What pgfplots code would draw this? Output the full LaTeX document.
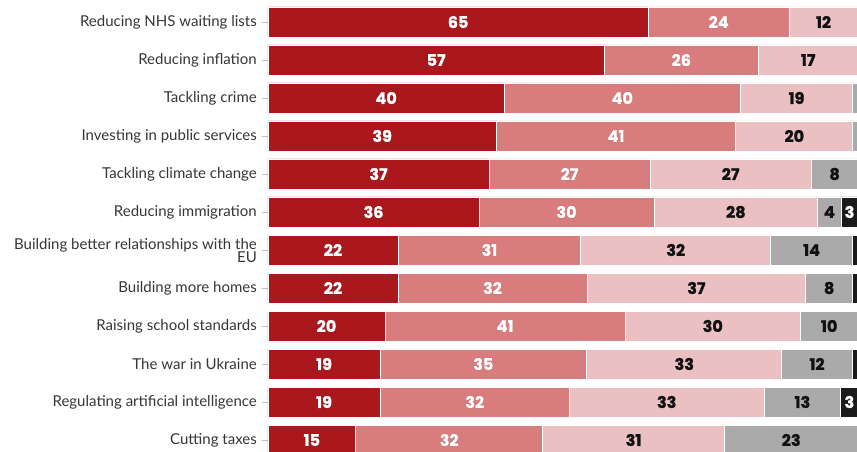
\documentclass[border=0pt]{standalone}
\usepackage{pgfplots}
\pgfplotsset{compat=1.18}
\usepackage{pgfplotstable}
\usepackage{fontspec}
\setmainfont{Lato}
\newfontfamily\numfont{Poppins}[BoldFeatures={FakeBold=1.4}]
\newfontfamily\halofont{Poppins}[BoldFeatures={FakeBold=4.5}]
\definecolor{c1}{HTML}{AA171C}
\definecolor{c2}{HTML}{D87C7D}
\definecolor{c3}{HTML}{EBC0C2}
\definecolor{c4}{HTML}{AAAAAA}
\definecolor{c5}{HTML}{1B1B1B}
\definecolor{h1}{HTML}{7E0C10}
\definecolor{h2}{HTML}{C25F61}
\definecolor{labc}{HTML}{363636}
\definecolor{numdark}{HTML}{111111}

% d = dark red ... k = black segment; l* = printed labels
\pgfplotstableread{
i d m l g k ld lm ll lg lk
0 64.46 23.85 11.69 0.00 0.00 65 24 12 {} {}
1 57.00 26.10 16.90 0.00 0.00 57 26 17 {} {}
2 40.05 40.00 19.05 0.90 0.00 40 40 19 {} {}
3 38.70 40.60 19.80 0.90 0.00 39 41 20 {} {}
4 37.46 27.30 27.30 7.94 0.00 37 27 27 8 {}
5 35.76 29.66 27.75 3.95 2.88 36 30 28 4 3
6 22.03 31.00 32.15 13.90 0.92 22 31 32 14 {}
7 22.03 32.03 37.10 7.90 0.94 22 32 37 8 {}
8 19.83 40.70 29.70 9.77 0.00 20 41 30 10 {}
9 19.00 35.00 33.10 11.90 1.00 19 35 33 12 {}
10 19.00 32.07 33.00 13.00 2.93 19 32 33 13 3
11 14.86 31.70 30.80 22.64 0.00 15 32 31 23 {}
}\data

\pgfplotsset{
  common/.style={
    at={(268pt,0pt)}, anchor=south west,
    scale only axis, width=591.18pt, height=452pt,
    xmin=0, xmax=100.2,
    ymin=-0.5789, ymax=11.3158, y dir=reverse,
  },
  seg/.style={fill=#1, draw=white, line width=0.9pt},
  lab/.style={draw=none, mark=none, point meta=explicit symbolic,
    nodes near coords={\pgfplotspointmeta},
    every node near coord/.style={font=\numfont\bfseries\fontsize{16}{16}\selectfont,
      anchor=center, inner sep=0pt, text=#1}},
  halo/.style={draw=none, mark=none, point meta=explicit symbolic,
    nodes near coords={\pgfplotspointmeta},
    every node near coord/.style={font=\halofont\bfseries\fontsize{16}{16}\selectfont,
      anchor=center, inner sep=0pt, text=#1}},
}

\begin{document}
\begin{tikzpicture}
\begin{axis}[
  common,
  xbar stacked, bar width=0.7895,
  axis line style={draw=none},
  xtick=\empty,
  ytick={0,...,11},
  ytick pos=left,
  tick align=outside,
  major tick length=6pt,
  tick style={draw=black!25, line width=0.7pt},
  yticklabels={
    {Reducing NHS waiting lists},
    {Reducing inflation},
    {Tackling crime},
    {Investing in public services},
    {Tackling climate change},
    {Reducing immigration},
    {Building better relationships with the\\EU},
    {Building more homes},
    {Raising school standards},
    {The war in Ukraine},
    {Regulating artificial intelligence},
    {Cutting taxes}},
  yticklabel style={font=\fontsize{15}{13.5}\selectfont, text=labc, align=right, inner sep=0pt, xshift=-5pt, yshift=-0.5pt},
  clip=true,
]
\addplot[seg=c1] table[x=d, y=i] {\data};
\addplot[seg=c2] table[x=m, y=i] {\data};
\addplot[seg=c3] table[x=l, y=i] {\data};
\addplot[seg=c4] table[x=g, y=i] {\data};
\addplot[seg=c5] table[x=k, y=i] {\data};
\end{axis}
\begin{axis}[common, hide axis, clip=false]
\addplot[halo=h1] table[x expr=\thisrow{d}/2, y=i, meta=ld] {\data};
\addplot[halo=h2] table[x expr=\thisrow{d}+\thisrow{m}/2, y=i, meta=lm] {\data};
\addplot[lab=white] table[x expr=\thisrow{d}/2, y=i, meta=ld] {\data};
\addplot[lab=white] table[x expr=\thisrow{d}+\thisrow{m}/2, y=i, meta=lm] {\data};
\addplot[lab=numdark] table[x expr=\thisrow{d}+\thisrow{m}+\thisrow{l}/2, y=i, meta=ll] {\data};
\addplot[lab=numdark] table[x expr=\thisrow{d}+\thisrow{m}+\thisrow{l}+\thisrow{g}/2, y=i, meta=lg] {\data};
\addplot[lab=white] table[x expr=\thisrow{d}+\thisrow{m}+\thisrow{l}+\thisrow{g}+\thisrow{k}/2, y=i, meta=lk] {\data};
\end{axis}
\pgfresetboundingbox
\path[use as bounding box] (0pt,0pt) rectangle (857pt,452pt);
\end{tikzpicture}
\end{document}
